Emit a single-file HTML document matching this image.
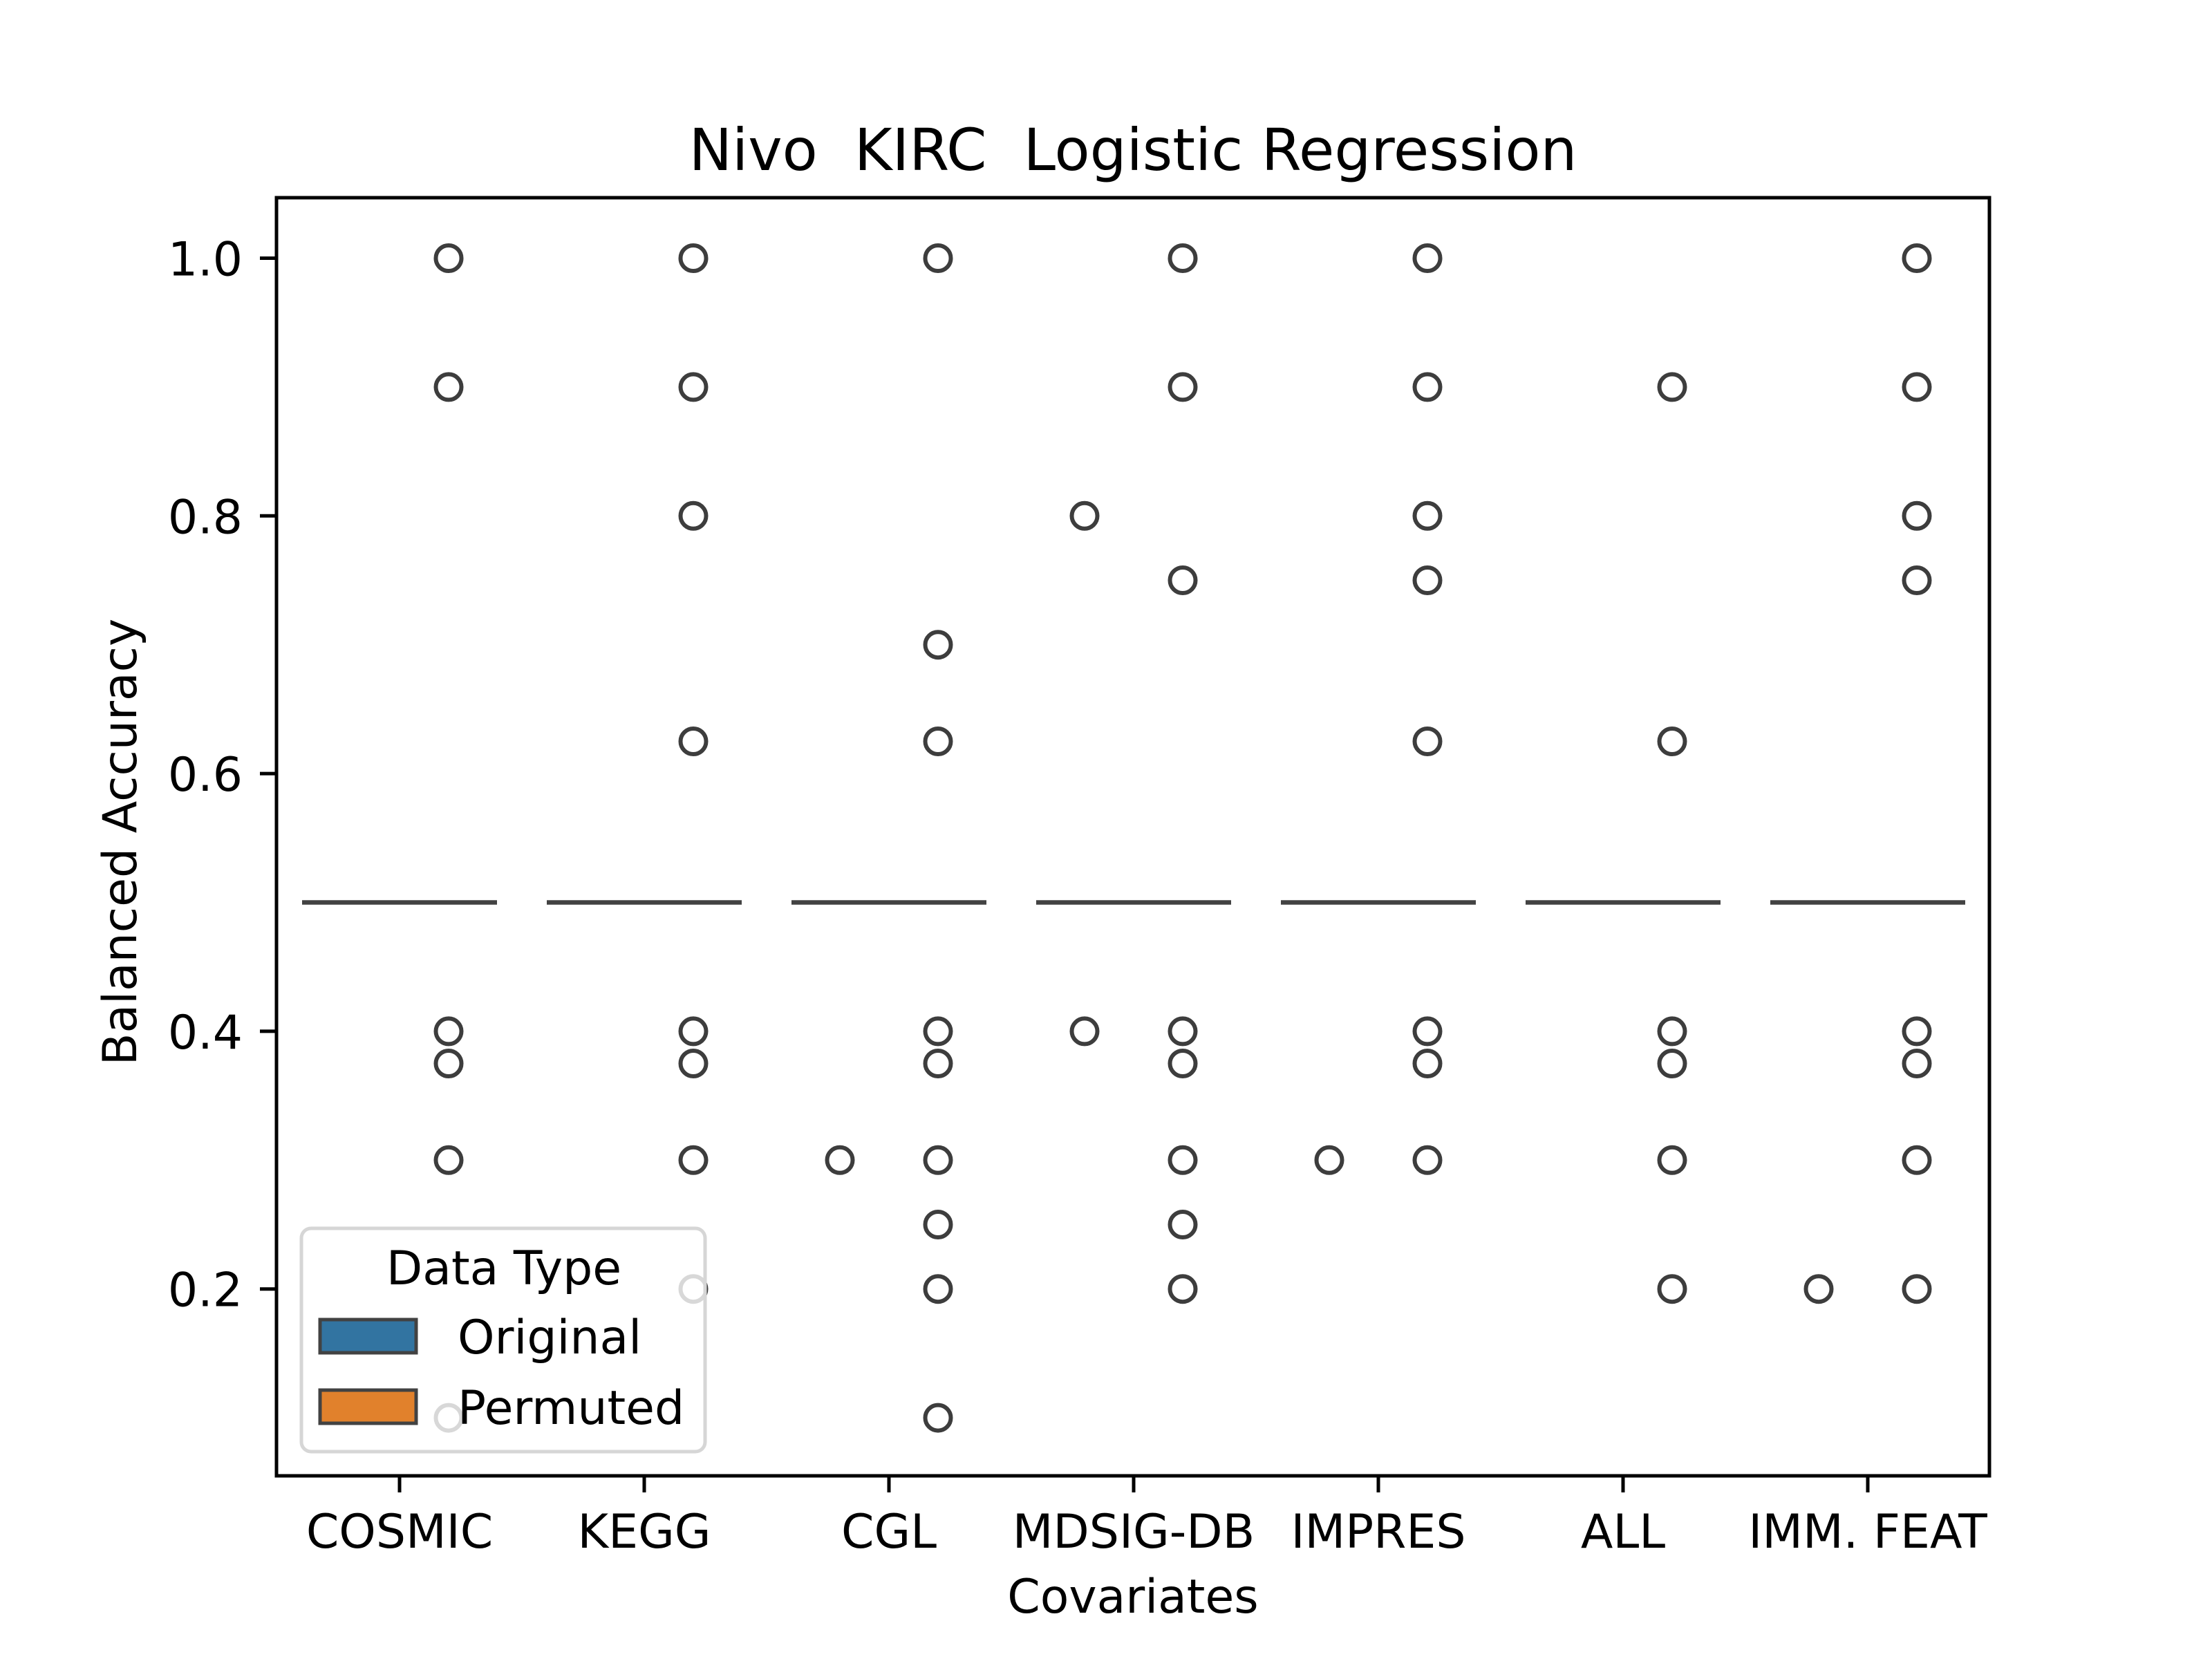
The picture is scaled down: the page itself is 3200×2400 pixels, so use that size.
<!DOCTYPE html>
<html><head><meta charset="utf-8"><style>
html,body{margin:0;padding:0;background:#fff;}
svg{display:block;font-family:"DejaVu Sans","Liberation Sans",sans-serif;}
</style></head><body>
<svg id="chart" width="3200" height="2400" viewBox="0 0 3200 2400" xmlns="http://www.w3.org/2000/svg">
<rect width="3200" height="2400" fill="#fff"/>
<text x="1639" y="246" font-size="83.5" text-anchor="middle" style="white-space:pre" xml:space="preserve">Nivo  KIRC  Logistic Regression</text>
<g id="plot"></g>
<text x="1639" y="2333" font-size="68" text-anchor="middle">Covariates</text>
<text transform="translate(197,1218) rotate(-90)" font-size="68" text-anchor="middle">Balanced Accuracy</text>
</svg>
<script>
const categories = ["COSMIC","KEGG","CGL","MDSIG-DB","IMPRES","ALL","IMM. FEAT"];
const medianOriginal = [0.5,0.5,0.5,0.5,0.5,0.5,0.5];
const medianPermuted = [0.5,0.5,0.5,0.5,0.5,0.5,0.5];
const outliersOriginal = [[],[],[0.3],[0.8,0.4],[0.3],[],[0.2]];
const outliersPermuted = [
 [1.0,0.9,0.4,0.375,0.3,0.1],
 [1.0,0.9,0.8,0.625,0.4,0.375,0.3,0.2],
 [1.0,0.7,0.625,0.4,0.375,0.3,0.25,0.2,0.1],
 [1.0,0.9,0.75,0.4,0.375,0.3,0.25,0.2],
 [1.0,0.9,0.8,0.75,0.625,0.4,0.375,0.3],
 [0.9,0.625,0.4,0.375,0.3,0.2],
 [1.0,0.9,0.8,0.75,0.4,0.375,0.3,0.2]
];
const yTicks = [0.2,0.4,0.6,0.8,1.0];
const yTickLabels = ["0.2","0.4","0.6","0.8","1.0"];

const NS="http://www.w3.org/2000/svg";
const L=400,R=2878,T=286,B=2135;
function yPos(v){ return 373.5 + (1.0 - v) * 1864; }
function xPos(i){ return 578 + i * 354; }
const g=document.getElementById('plot');
function mk(tag,attrs,parent){const e=document.createElementNS(NS,tag);for(const k in attrs)e.setAttribute(k,attrs[k]);(parent||g).appendChild(e);return e;}

categories.forEach((c,i)=>{
  const l1=mk('line',{x1:xPos(i)-141,x2:xPos(i),y1:yPos(medianOriginal[i]),y2:yPos(medianOriginal[i]),stroke:'#424242','stroke-width':6.5});
  
  
  const l2=mk('line',{x1:xPos(i),x2:xPos(i)+141,y1:yPos(medianPermuted[i]),y2:yPos(medianPermuted[i]),stroke:'#424242','stroke-width':6.5});
  
  
});
categories.forEach((c,i)=>{
  outliersOriginal[i].forEach(v=>{
    const p=mk('circle',{cx:xPos(i)-71,cy:yPos(v),r:18.5,fill:'none',stroke:'#3d3d3d','stroke-width':6});
    
    
  });
  outliersPermuted[i].forEach(v=>{
    const p=mk('circle',{cx:xPos(i)+71,cy:yPos(v),r:18.5,fill:'none',stroke:'#3d3d3d','stroke-width':6});
    
    
  });
});
const fr=mk('rect',{x:L,y:T,width:R-L,height:B-T,fill:'none',stroke:'#000','stroke-width':5});


yTicks.forEach((v,k)=>{
  const t=mk('line',{x1:L-24,x2:L,y1:yPos(v),y2:yPos(v),stroke:'#000','stroke-width':5});
  
  
  const tx=mk('text',{x:351,y:yPos(v)+25,'font-size':68,'text-anchor':'end'});
  tx.textContent=yTickLabels[k];
  
  
});
categories.forEach((c,i)=>{
  const t=mk('line',{x1:xPos(i),x2:xPos(i),y1:B,y2:B+24,stroke:'#000','stroke-width':5});
  
  
  const tx=mk('text',{x:xPos(i),y:2239,'font-size':68,'text-anchor':'middle'});
  tx.textContent=c;
  
  
});
const lg=mk('g',{});


const lb=mk('rect',{x:436,y:1777,width:584,height:323,rx:14,fill:'#fff','fill-opacity':0.8,stroke:'#d6d6d6','stroke-width':5},lg);


const lt=mk('text',{x:729,y:1858,'font-size':68,'text-anchor':'middle'},lg);
lt.textContent='Data Type';


[['Original','#3274a1',1933],['Permuted','#e1812c',2035]].forEach(([n,col,y])=>{
  const r=mk('rect',{x:463,y:y-24,width:139,height:48,fill:col,stroke:'#424242','stroke-width':5},lg);
  
  
  const t=mk('text',{x:662,y:y+25,'font-size':68},lg);
  t.textContent=n;
  
  
});
</script>
</body></html>
